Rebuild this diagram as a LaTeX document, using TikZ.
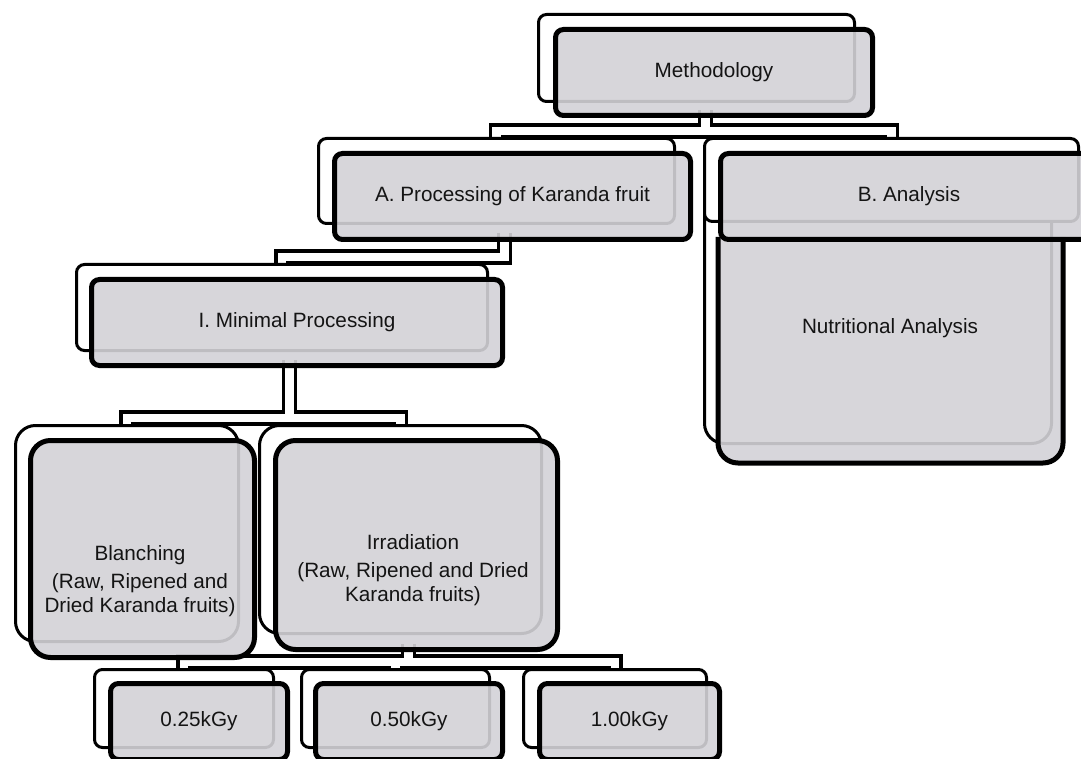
\documentclass[tikz,border=0pt]{standalone}
\usepackage{fontspec}
\setmainfont{Liberation Sans}
\usetikzlibrary{calc,backgrounds}

\definecolor{boxgrey}{RGB}{211,210,215}
\definecolor{textdark}{RGB}{20,20,20}

\tikzset{
  backbox/.style={draw=black, line width=3pt, fill=white, rounded corners=8pt,
    inner sep=0pt, anchor=north west},
  frontbox/.style={draw=black, line width=5pt, fill=boxgrey, fill opacity=0.9,
    text opacity=1, text=textdark, rounded corners=8pt, inner sep=0pt,
    anchor=north west, align=center, font=\fontsize{20.7pt}{24pt}\selectfont},
  bigbox/.style={rounded corners=20pt},
  boxtext/.style={text=textdark, align=center, font=\fontsize{20.7pt}{24pt}\selectfont},
  conn/.style={draw=black, line width=3.5pt, double=white, double distance=8.5pt},
}

\begin{document}
\begin{tikzpicture}[x=1pt, y=-1pt]
    \useasboundingbox (0,0) rectangle (1081,759);
    \clip (0,0) rectangle (1081,759);

    % Raiz
    \node[backbox, minimum width=316pt, minimum height=87pt] (meth-bk) at (537,13) {};
    \node[frontbox, minimum width=317pt, minimum height=86pt] (meth) at (553,27) {Methodology};

    % Nivel A / B
    \node[backbox, minimum width=356pt, minimum height=85pt] (procA-bk) at (317,137) {};
    \node[frontbox, minimum width=356pt, minimum height=86pt] (procA) at (332,151) {A. Processing of Karanda fruit};

    \node[backbox, bigbox, minimum width=347pt, minimum height=272pt] (nutr-bk) at (703,170) {};
    \node[backbox, minimum width=374pt, minimum height=83pt] (anal-bk) at (703,137) {};
    \filldraw[line width=5pt, fill=boxgrey, fill opacity=0.9, rounded corners=20pt]
        (718,237) -- (718,463) -- (1063,463) -- (1063,237);
    \node[frontbox, minimum width=377pt, minimum height=86pt] (anal) at (718,151) {B. Analysis};
    \node[boxtext] (nutr) at (890,328) {Nutritional Analysis};

    % Nivel I
    \node[backbox, minimum width=411pt, minimum height=86pt] (minp-bk) at (75,263) {};
    \node[frontbox, minimum width=411pt, minimum height=86pt] (minp) at (89,277) {I. Minimal Processing};

    % Tratamientos
    \node[backbox, bigbox, minimum width=223pt, minimum height=216pt] (blanch-bk) at (14,424) {};
    \node[frontbox, bigbox, minimum width=224pt, minimum height=217pt] (blanch) at (28,438) {};
    \node[boxtext] (blanch-txt) at (140,581) {Blanching\\[4pt](Raw, Ripened and\\Dried Karanda fruits)};

    \node[backbox, bigbox, minimum width=282pt, minimum height=208pt] (irrad-bk) at (258,424) {};
    \node[frontbox, bigbox, minimum width=282pt, minimum height=209pt] (irrad) at (273,438) {};
    \node[boxtext] (irrad-txt) at (413,570) {Irradiation\\[4pt](Raw, Ripened and Dried\\Karanda fruits)};

    % Dosis
    \node[backbox, minimum width=179pt, minimum height=78pt] (kgyA-bk) at (93,668) {};
    \node[frontbox, minimum width=177pt, minimum height=76pt] (kgyA) at (108,681) {0.25kGy};
    \node[backbox, minimum width=188pt, minimum height=78pt] (kgyB-bk) at (300,668) {};
    \node[frontbox, minimum width=187pt, minimum height=76pt] (kgyB) at (313,681) {0.50kGy};
    \node[backbox, minimum width=183pt, minimum height=78pt] (kgyC-bk) at (522,668) {};
    \node[frontbox, minimum width=180pt, minimum height=76pt] (kgyC) at (537,681) {1.00kGy};

    % Conectores
    \begin{pgfonlayer}{background}
        \coordinate (methOut) at ($(meth.south)!.5!(meth-bk.south)$);
        \coordinate (busA) at ($(procA-bk.north)+(0,-6)$);
        \draw[conn] (procA-bk.north) -- (busA) -| (anal-bk.north)
                    (methOut) -- (methOut |- busA);

        \coordinate (procOut) at ($(procA.south)!.5!(procA-bk.south)$);
        \draw[conn] (procOut) |- ($(minp-bk.north)+(0,-6)$) -- (minp-bk.north);

        \coordinate (minpOut) at ($(minp.south)!.5!(minp-bk.south)$);
        \coordinate (busI) at ($(blanch-bk.north)+(0,-6)$);
        \draw[conn] (blanch-bk.north) -- (busI) -| (irrad-bk.north)
                    (minpOut) -- (minpOut |- busI);

        \coordinate (irradOut) at ($(irrad.south)!.5!(irrad-bk.south)$);
        \coordinate (busK) at ($(kgyA-bk.north)+(0,-6)$);
        \draw[conn] (kgyA-bk.north) -- (busK) -| (kgyC-bk.north)
                    (kgyB-bk.north) -- (kgyB-bk.north |- busK)
                    (irradOut) -- (irradOut |- busK);
    \end{pgfonlayer}
\end{tikzpicture}
\end{document}
